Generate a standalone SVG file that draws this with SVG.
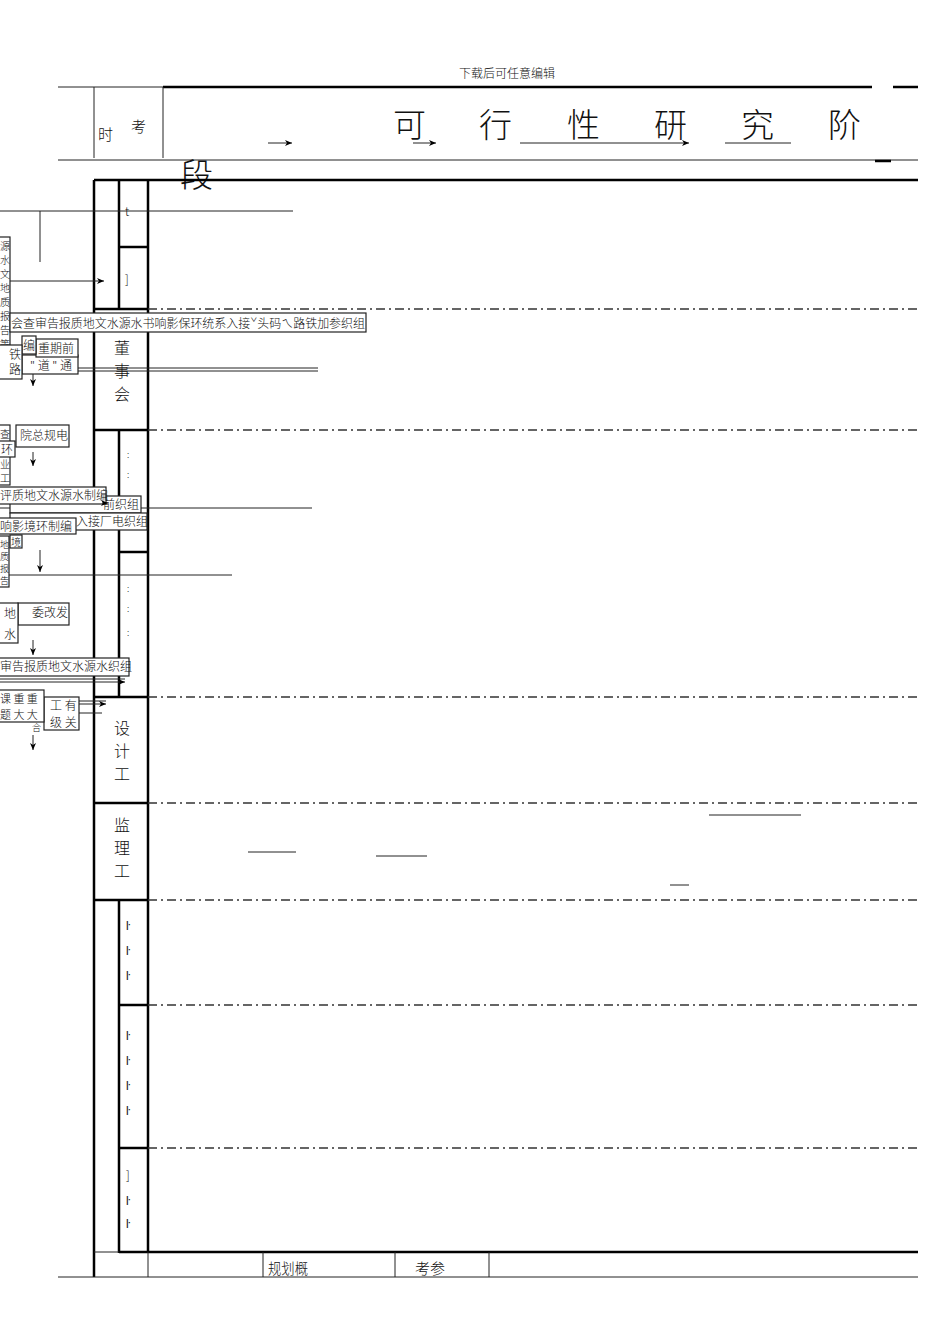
<svg xmlns="http://www.w3.org/2000/svg" width="950" height="1344" viewBox="0 0 950 1344">
<defs>
<style>
text{font-family:"Liberation Serif","Noto Sans CJK SC",serif;fill:#111}
.cj{font-family:"Noto Sans CJK SC",sans-serif;font-weight:300}
.thin{stroke:#222;stroke-width:1;fill:none}
.thick{stroke:#000;stroke-width:2.5;fill:none}
.dd{stroke:#333;stroke-width:1.3;stroke-dasharray:9 4 2 4;fill:none}
.box{fill:#fff;stroke:#222;stroke-width:1.2}
.s12{font-size:12px}
.s11{font-size:11px}
.s15{font-size:15px}
.v{font-size:10px}
.lab{font-size:16px}
.ttl{font-size:33px}
</style>
<marker id="ah" markerWidth="8" markerHeight="8" refX="7" refY="4" orient="auto" markerUnits="userSpaceOnUse">
<path d="M0,1 L7,4 L0,7 L2,4 Z" fill="#000"/>
</marker>
</defs>
<rect width="950" height="1344" fill="#fff"/>

<g id="header">
<text x="507" y="78" class="cj s12" text-anchor="middle">下载后可任意编辑</text>
<line x1="58" y1="87" x2="163" y2="87" class="thin"/>
<line x1="163" y1="87" x2="872" y2="87" class="thick" stroke-width="2"/>
<line x1="893" y1="87" x2="918" y2="87" class="thick" stroke-width="2"/>
<line x1="94" y1="87" x2="94" y2="158" class="thin" stroke-width="1.5"/>
<line x1="163" y1="87" x2="163" y2="158" class="thin" stroke-width="1.5"/>
<line x1="58" y1="160" x2="918" y2="160" class="thin"/>
<line x1="875" y1="161" x2="891" y2="161" class="thick" stroke-width="2"/>
<text x="98" y="140" class="cj s15">时</text>
<text x="131" y="132" class="cj s15">考</text>
<text x="393" y="137" class="cj ttl">可</text>
<text x="479" y="137" class="cj ttl">行</text>
<text x="567" y="137" class="cj ttl">性</text>
<text x="654" y="137" class="cj ttl">研</text>
<text x="741" y="137" class="cj ttl">究</text>
<text x="828" y="137" class="cj ttl">阶</text>
<text x="180" y="187" class="cj ttl">段</text>
<line x1="268" y1="143" x2="292" y2="143" class="thin" marker-end="url(#ah)"/>
<line x1="413" y1="143" x2="436" y2="143" class="thin" stroke-width="1.5" marker-end="url(#ah)"/>
<line x1="520" y1="143" x2="689" y2="143" class="thin" stroke-width="1.5" marker-end="url(#ah)"/>
<line x1="725" y1="143" x2="791" y2="143" class="thin" stroke-width="1.5"/>
</g>

<g id="frame">
<line x1="94" y1="180" x2="918" y2="180" class="thick"/>
<line x1="94" y1="180" x2="94" y2="1277" class="thick"/>
<line x1="148" y1="180" x2="148" y2="1252" class="thick"/>
<line x1="119" y1="180" x2="119" y2="310" class="thick"/>
<line x1="119" y1="430" x2="119" y2="697" class="thick"/>
<line x1="119" y1="900" x2="119" y2="1253" class="thick"/>
<line x1="119" y1="247" x2="148" y2="247" class="thick"/>
<line x1="94" y1="309" x2="148" y2="309" class="thick"/>
<line x1="94" y1="430" x2="148" y2="430" class="thick"/>
<line x1="119" y1="552" x2="148" y2="552" class="thick"/>
<line x1="94" y1="697" x2="148" y2="697" class="thick"/>
<line x1="94" y1="803" x2="148" y2="803" class="thick"/>
<line x1="94" y1="900" x2="148" y2="900" class="thick"/>
<line x1="119" y1="1005" x2="148" y2="1005" class="thick"/>
<line x1="119" y1="1148" x2="148" y2="1148" class="thick"/>
<line x1="119" y1="1252" x2="918" y2="1252" class="thick"/>
<line x1="58" y1="1277" x2="918" y2="1277" class="thin" stroke-width="1.5"/>
<line x1="94" y1="1252" x2="119" y2="1252" class="thin"/>
<line x1="148" y1="1252" x2="148" y2="1277" class="thin" stroke="#999"/>
<line x1="263" y1="1252" x2="263" y2="1277" class="thin"/>
<line x1="395" y1="1252" x2="395" y2="1277" class="thin"/>
<line x1="489" y1="1252" x2="489" y2="1277" class="thin"/>
<line x1="148" y1="309" x2="918" y2="309" class="dd"/>
<line x1="148" y1="430" x2="918" y2="430" class="dd"/>
<line x1="148" y1="697" x2="918" y2="697" class="dd"/>
<line x1="148" y1="803" x2="918" y2="803" class="dd"/>
<line x1="148" y1="900" x2="918" y2="900" class="dd"/>
<line x1="148" y1="1005" x2="918" y2="1005" class="dd"/>
<line x1="148" y1="1148" x2="918" y2="1148" class="dd"/>
</g>

<g id="row-labels">
<text x="125" y="216" class="cj s12">t</text>
<text x="125" y="284" class="cj s12">]</text>
<text x="114" y="354" class="cj lab">董</text>
<text x="114" y="377" class="cj lab">事</text>
<text x="114" y="400" class="cj lab">会</text>
<text x="127" y="458" class="cj" font-size="9">:</text>
<text x="127" y="478" class="cj" font-size="9">:</text>
<text x="127" y="592" class="cj" font-size="9">:</text>
<text x="127" y="612" class="cj" font-size="9">:</text>
<text x="127" y="636" class="cj" font-size="9">:</text>
<text x="114" y="734" class="cj lab">设</text>
<text x="114" y="757" class="cj lab">计</text>
<text x="114" y="780" class="cj lab">工</text>
<text x="114" y="831" class="cj lab">监</text>
<text x="114" y="854" class="cj lab">理</text>
<text x="114" y="877" class="cj lab">工</text>
<text x="126" y="930" class="cj s12">ŀ</text>
<text x="126" y="955" class="cj s12">ŀ</text>
<text x="126" y="980" class="cj s12">ŀ</text>
<text x="126" y="1040" class="cj s12">ŀ</text>
<text x="126" y="1065" class="cj s12">ŀ</text>
<text x="126" y="1090" class="cj s12">ŀ</text>
<text x="126" y="1115" class="cj s12">ŀ</text>
<text x="126" y="1180" class="cj s12">]</text>
<text x="126" y="1205" class="cj s12">ŀ</text>
<text x="126" y="1228" class="cj s12">ŀ</text>
<text x="268" y="1274" class="cj s15" textLength="40" lengthAdjust="spacingAndGlyphs">规划概</text>
<text x="415" y="1274" class="cj s15">考参</text>
</g>

<g id="connectors">
<line x1="0" y1="211" x2="293" y2="211" class="thin"/>
<line x1="40" y1="211" x2="40" y2="262" class="thin"/>
<line x1="10" y1="281" x2="104" y2="281" class="thin" marker-end="url(#ah)"/>
<line x1="0" y1="368" x2="318" y2="368" class="thin"/>
<line x1="0" y1="371" x2="318" y2="371" class="thin"/>
<line x1="33" y1="373" x2="33" y2="386" class="thin" marker-end="url(#ah)"/>
<line x1="33" y1="452" x2="33" y2="466" class="thin" marker-end="url(#ah)"/>
<line x1="0" y1="508" x2="312" y2="508" class="thin"/>
<line x1="40" y1="550" x2="40" y2="572" class="thin" marker-end="url(#ah)"/>
<line x1="0" y1="575" x2="232" y2="575" class="thin"/>
<line x1="33" y1="640" x2="33" y2="655" class="thin" marker-end="url(#ah)"/>
<line x1="0" y1="679" x2="125" y2="679" class="thin"/>
<line x1="0" y1="682" x2="125" y2="682" class="thin" marker-end="url(#ah)"/>
<line x1="0" y1="701" x2="106" y2="701" class="thin"/>
<line x1="0" y1="704" x2="106" y2="704" class="thin" marker-end="url(#ah)"/>
<line x1="0" y1="713" x2="102" y2="713" class="thin"/>
<line x1="33" y1="735" x2="33" y2="750" class="thin" marker-end="url(#ah)"/>
<line x1="248" y1="852" x2="296" y2="852" class="thin" stroke-width="1.5"/>
<line x1="376" y1="856" x2="427" y2="856" class="thin" stroke-width="1.5" stroke="#555"/>
<line x1="709" y1="815" x2="801" y2="815" class="thin" stroke-width="1.5"/>
<line x1="670" y1="885" x2="689" y2="885" class="thin" stroke-width="1.5" stroke="#555"/>
</g>

<g id="node-1">
<rect x="-2" y="237" width="12" height="141" class="box"/>
<text class="cj v"><tspan x="0" y="250">源</tspan><tspan x="0" y="264">水</tspan><tspan x="0" y="278">文</tspan><tspan x="0" y="292">地</tspan><tspan x="0" y="306">质</tspan><tspan x="0" y="320">报</tspan><tspan x="0" y="334">告</tspan><tspan x="0" y="348">等</tspan><tspan x="0" y="362">任</tspan><tspan x="0" y="376">务</tspan></text>
</g>
<g id="node-2">
<rect x="10" y="313" width="356" height="19" class="box"/>
<text x="11" y="328" class="cj s12" textLength="354" lengthAdjust="spacingAndGlyphs">会查审告报质地文水源水书响影保环统系入接ˇ头码ㄟ路铁加参织组</text>
</g>
<g id="node-3">
<rect x="22" y="355" width="56" height="19" class="box"/>
<text x="30" y="370" class="cj s12">" 道 " 通</text>
<rect x="36" y="339" width="42" height="18" class="box"/>
<text x="38" y="353" class="cj s12">重期前</text>
<rect x="22" y="336" width="14" height="18" class="box"/>
<text x="23" y="350" class="cj s12">编</text>
<rect x="-2" y="345" width="24" height="34" class="box"/>
<text x="9" y="359" class="cj s12">铁</text>
<text x="9" y="374" class="cj s12">路</text>
</g>
<g id="node-4">
<rect x="-2" y="425" width="12" height="60" class="box"/>
<text class="cj v"><tspan x="0" y="438">查</tspan><tspan x="0" y="468">业</tspan><tspan x="0" y="482">工</tspan></text>
<rect x="16" y="425" width="53" height="22" class="box"/>
<text x="20" y="440" class="cj s12">院总规电</text>
<rect x="-2" y="441" width="17" height="16" class="box"/>
<text x="1" y="454" class="cj s12">环</text>
</g>
<g id="node-5">
<rect x="10" y="496" width="131" height="17" class="box"/>
<text x="103" y="509" class="cj s12">前织组</text>
<rect x="-2" y="487" width="108" height="17" class="box"/>
<text x="0" y="500" class="cj s12">评质地文水源水制编</text>
<line x1="102" y1="503" x2="108" y2="503" class="thin" marker-end="url(#ah)"/>
<rect x="10" y="513" width="137" height="17" class="box"/>
<text x="76" y="526" class="cj s12">入接厂电织组</text>
<rect x="-2" y="518" width="78" height="16" class="box"/>
<text x="0" y="531" class="cj s12">响影境环制编</text>
<rect x="10" y="535" width="12" height="13" class="box"/>
<text x="11" y="546" class="cj" font-size="10">境</text>
<rect x="-2" y="536" width="11" height="51" class="box"/>
<text class="cj" font-size="9"><tspan x="0" y="548">地</tspan><tspan x="0" y="560">质</tspan><tspan x="0" y="572">报</tspan><tspan x="0" y="584">告</tspan></text>
</g>
<g id="node-6">
<rect x="18" y="603" width="51" height="22" class="box"/>
<text x="32" y="617" class="cj s12">委改发</text>
<rect x="-2" y="603" width="20" height="40" class="box"/>
<text x="4" y="618" class="cj s12">地</text>
<text x="4" y="639" class="cj s12">水</text>
</g>
<g id="node-7">
<rect x="-2" y="658" width="131" height="18" class="box"/>
<text x="0" y="671" class="cj s12">审告报质地文水源水织组</text>
</g>
<g id="node-8">
<rect x="44" y="697" width="35" height="33" class="box"/>
<text x="50" y="710" class="cj s12">工 有</text>
<text x="50" y="727" class="cj s12">级 关</text>
<rect x="-2" y="690" width="46" height="32" class="box"/>
<text x="0" y="703" class="cj s11">课 重 重</text>
<text x="0" y="719" class="cj s11">题 大 大</text>
<text x="32" y="731" class="cj" font-size="9">合</text>
</g>
</svg>
